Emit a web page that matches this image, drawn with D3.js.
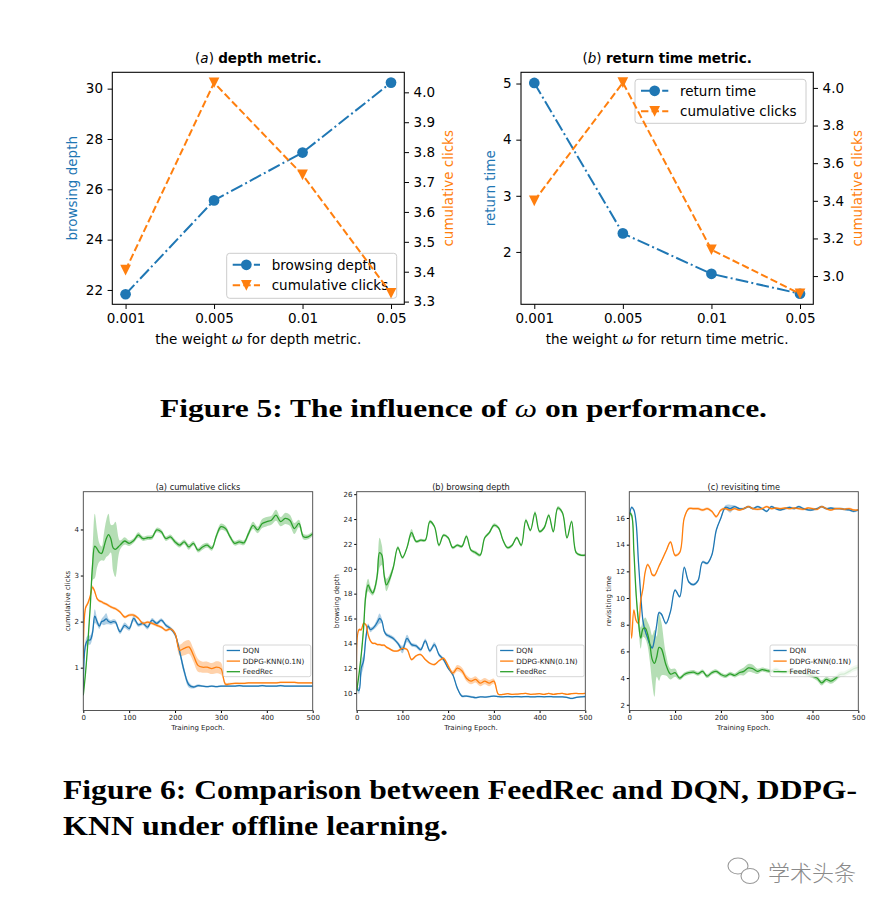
<!DOCTYPE html>
<html><head><meta charset="utf-8">
<script src="https://cdn.jsdelivr.net/npm/d3@7"></script>
<style>body{margin:0;background:#fff}svg{display:block}</style>
</head><body>
<svg id="c" width="884" height="910"></svg>
<script>
// ---------- Figure 5 data ----------
const WEIGHTS = ["0.001", "0.005", "0.01", "0.05"];
const DEPTH_BROWSING = [21.83, 25.56, 27.46, 30.24];
const DEPTH_CLICKS = [3.405, 4.032, 3.724, 3.328];
const RETURN_TIME = [5.01, 2.33, 1.61, 1.255];
const RETURN_CLICKS = [3.40, 4.028, 3.14, 2.906];
const TL_LEFT_TICKS = [22, 24, 26, 28, 30];
const TL_RIGHT_TICKS = [3.3, 3.4, 3.5, 3.6, 3.7, 3.8, 3.9, 4.0];
const TR_LEFT_TICKS = [2, 3, 4, 5];
const TR_RIGHT_TICKS = [3.0, 3.2, 3.4, 3.6, 3.8, 4.0];

// ---------- Figure 6 data ----------
const EPOCHS = [0,5,10,15,20,25,30,35,40,45,50,55,60,65,70,
  80,90,100,110,120,130,140,150,160,170,180,190,200,210,220,230,240,250,260,270,280,290,300,
  310,320,330,340,350,360,370,380,390,400,410,420,430,440,450,460,470,480,490,500];
const EPOCH_TICKS = [0, 100, 200, 300, 400, 500];
const SERIES_NAMES = ["DQN", "DDPG-KNN(0.1N)", "FeedRec"];

const A_DQN = [0.4,1.5,1.6,1.6,1.75,2.12,2.0,1.9,2.0,2.02,2.06,2.0,1.98,2.0,1.99,
  1.78,1.92,1.85,2.07,1.93,1.96,1.88,2.03,1.96,2.03,1.92,1.85,1.72,1.35,0.92,0.63,0.58,0.61,0.6,0.59,0.6,0.59,0.6,
  0.6,0.6,0.6,0.61,0.6,0.6,0.6,0.6,0.61,0.6,0.6,0.6,0.61,0.6,0.6,0.6,0.6,0.6,0.6,0.6];
const A_DQN_SD = [0,0.1,0.1,0.1,0.1,0.15,0.08,0.06,0.06,0.1,0.12,0.06,0.05,0.05,0.05,
  0.05,0.06,0.05,0.06,0.04,0.04,0.05,0.05,0.04,0.04,0.04,0.04,0.05,0.08,0.08,0.06,0.03,0.03,0.02,0.02,0.02,0.02,0.02,
  0.02,0.02,0.02,0.02,0.02,0.02,0.02,0.02,0.02,0.02,0.02,0.02,0.02,0.02,0.02,0.02,0.02,0.02,0.02,0.02];
const A_DDPG = [1.2,2.3,2.4,2.55,2.75,2.65,2.5,2.45,2.43,2.4,2.38,2.35,2.32,2.3,2.28,
  2.21,2.1,2.14,2.14,2.07,1.96,1.99,1.96,1.92,1.88,1.81,1.84,1.74,1.38,1.42,1.45,1.27,1.05,1.01,1.01,0.98,1.01,0.98,
  0.64,0.65,0.66,0.66,0.66,0.67,0.67,0.67,0.67,0.67,0.67,0.67,0.68,0.68,0.68,0.68,0.67,0.67,0.67,0.67];
const A_DDPG_SD = [0,0.04,0.04,0.04,0.04,0.04,0.03,0.03,0.03,0.03,0.03,0.03,0.03,0.03,0.03,
  0.03,0.03,0.03,0.03,0.03,0.03,0.03,0.03,0.03,0.03,0.03,0.03,0.04,0.12,0.15,0.15,0.14,0.14,0.12,0.12,0.12,0.13,0.13,
  0.04,0.02,0.02,0.02,0.02,0.02,0.02,0.02,0.02,0.02,0.02,0.02,0.02,0.02,0.02,0.02,0.02,0.02,0.02,0.02];
const A_FEED = [0.4,0.9,1.55,2.3,3.2,3.64,3.58,3.5,3.48,3.62,3.8,3.89,3.8,3.6,3.57,
  3.66,3.75,3.7,3.76,3.88,3.8,3.82,3.83,3.99,3.95,3.8,3.84,3.73,3.66,3.73,3.62,3.7,3.55,3.62,3.66,3.59,3.86,4.06,
  4.02,3.84,3.7,3.73,3.71,3.91,4.09,3.99,4.13,4.17,4.2,4.31,4.17,4.24,4.2,4.02,4.13,3.84,3.84,3.91];
const A_FEED_SD = [0,0.05,0.05,0.1,0.3,0.7,0.4,0.2,0.15,0.3,0.4,0.45,0.3,0.5,0.6,
  0.1,0.08,0.06,0.05,0.06,0.05,0.05,0.05,0.05,0.05,0.05,0.05,0.05,0.05,0.05,0.06,0.05,0.05,0.06,0.05,0.05,0.06,0.07,
  0.06,0.05,0.05,0.05,0.05,0.06,0.08,0.07,0.1,0.1,0.1,0.12,0.1,0.12,0.12,0.12,0.08,0.06,0.05,0.05];

const B_DQN = [10.4,10.2,12.0,12.6,14.4,15.4,15.1,15.2,15.4,15.7,16.0,15.8,15.0,14.7,14.6,
  14.4,14.0,13.5,14.4,13.9,13.8,13.5,14.2,13.4,13.9,13.1,12.7,12.0,11.5,10.4,9.76,9.76,9.7,9.63,9.7,9.68,9.72,9.76,
  9.72,9.7,9.72,9.7,9.72,9.7,9.72,9.7,9.7,9.72,9.7,9.72,9.7,9.7,9.7,9.65,9.57,9.65,9.7,9.72];
const B_DQN_SD = [0,0.3,0.6,0.5,0.3,0.2,0.2,0.15,0.2,0.3,0.4,0.2,0.15,0.15,0.15,
  0.15,0.15,0.3,0.3,0.15,0.15,0.15,0.2,0.15,0.2,0.15,0.15,0.1,0.1,0.1,0.1,0.08,0.08,0.08,0.06,0.06,0.06,0.06,
  0.06,0.06,0.06,0.06,0.06,0.06,0.06,0.06,0.06,0.06,0.06,0.06,0.06,0.06,0.06,0.06,0.06,0.06,0.06,0.06];
const B_DDPG = [10.4,15.1,15.1,15.6,15.5,14.7,14.2,14.0,14.0,13.9,13.9,13.85,13.85,13.7,13.6,
  13.4,13.4,13.6,13.5,12.7,13.0,13.1,12.7,12.4,12.3,12.6,12.8,12.2,11.6,12.0,11.8,11.2,10.96,11.1,10.8,10.96,10.8,10.96,
  9.9,9.9,9.95,9.9,9.92,9.95,9.98,9.9,9.92,9.95,9.9,9.98,9.9,9.95,9.98,9.9,9.95,9.98,9.95,9.98];
const B_DDPG_SD = [0,0.1,0.1,0.1,0.1,0.08,0.08,0.08,0.08,0.08,0.08,0.08,0.08,0.08,0.08,
  0.08,0.08,0.08,0.1,0.1,0.08,0.08,0.08,0.08,0.08,0.08,0.1,0.15,0.2,0.25,0.25,0.25,0.25,0.25,0.25,0.25,0.25,0.2,
  0.06,0.05,0.05,0.05,0.05,0.05,0.05,0.05,0.05,0.05,0.05,0.05,0.05,0.05,0.05,0.05,0.05,0.05,0.05,0.05];
const B_FEED = [10.16,11.5,13.1,15.2,17.9,18.7,18.3,18.05,18.5,19.5,21.3,21.1,19.5,18.7,19.0,
  20.1,21.7,20.9,21.7,22.9,22.2,22.3,22.3,23.8,23.4,21.9,22.7,22.5,21.7,21.9,21.8,22.6,21.5,21.3,21.1,22.5,22.9,23.5,
  23.3,22.3,21.7,21.9,22.5,21.9,23.9,23.1,24.5,23.0,23.3,24.3,23.0,24.9,24.5,22.5,23.8,21.3,21.1,21.1];
const B_FEED_SD = [0,0.2,0.3,0.4,0.6,0.5,0.3,0.2,0.3,0.5,1.2,0.8,0.4,0.5,0.4,
  0.2,0.15,0.12,0.12,0.3,0.12,0.12,0.12,0.15,0.12,0.12,0.12,0.12,0.12,0.12,0.12,0.15,0.12,0.15,0.12,0.12,0.12,0.15,
  0.12,0.12,0.12,0.12,0.12,0.12,0.15,0.12,0.15,0.12,0.12,0.15,0.12,0.15,0.15,0.12,0.12,0.12,0.1,0.1];

const C_DQN = [16.0,16.8,16.6,15.6,12.7,10.2,8.25,7.5,7.0,6.5,6.26,6.9,8.0,8.9,8.8,
  8.1,9.0,10.6,10.1,12.3,11.2,11.0,11.3,12.7,12.6,13.2,15.1,16.0,16.8,16.7,16.85,16.7,16.7,16.85,16.7,16.85,16.7,16.5,
  16.85,16.7,16.6,16.7,16.8,16.7,16.85,16.7,16.6,16.6,16.7,16.85,16.7,16.75,16.7,16.7,16.65,16.6,16.5,16.6];
const C_DQN_SD = [0,0.1,0.1,0.1,0.1,0.1,0.1,0.1,0.1,0.1,0.1,0.1,0.1,0.1,0.1,
  0.1,0.1,0.1,0.1,0.1,0.1,0.1,0.1,0.1,0.1,0.1,0.1,0.1,0.15,0.3,0.1,0.08,0.08,0.08,0.08,0.08,0.08,0.08,
  0.08,0.08,0.08,0.08,0.08,0.08,0.08,0.08,0.08,0.08,0.08,0.08,0.08,0.08,0.08,0.08,0.08,0.08,0.08,0.08];
const C_DDPG = [16.3,7.0,9.1,8.3,8.1,9.8,10.75,12.0,12.5,12.25,11.75,11.7,12.0,12.4,12.75,
  13.5,14.2,13.2,13.4,16.0,16.7,16.7,16.7,16.6,16.7,16.5,16.1,16.6,16.7,16.6,16.7,16.6,16.7,16.85,16.7,16.65,16.7,16.85,
  16.7,16.75,16.7,16.75,16.7,16.75,16.7,16.65,16.75,16.7,16.65,16.85,16.7,16.6,16.7,16.7,16.65,16.7,16.6,16.6];
const C_DDPG_SD = [0,0.1,0.1,0.1,0.1,0.1,0.1,0.1,0.1,0.1,0.1,0.1,0.1,0.1,0.1,
  0.1,0.1,0.1,0.1,0.1,0.1,0.1,0.1,0.1,0.1,0.1,0.1,0.1,0.1,0.1,0.08,0.08,0.08,0.08,0.08,0.08,0.08,0.08,
  0.08,0.08,0.08,0.08,0.08,0.08,0.08,0.08,0.08,0.08,0.08,0.08,0.08,0.08,0.08,0.08,0.08,0.08,0.08,0.08];
const C_FEED = [16.4,16.2,13.5,10.25,8.25,7.0,7.7,7.75,7.3,6.5,5.4,5.1,5.6,6.3,6.2,
  5.0,4.3,4.4,4.0,4.27,4.4,4.45,4.32,4.5,4.15,4.4,4.5,4.27,4.15,4.32,4.2,4.4,4.5,4.76,4.7,4.5,4.64,4.56,
  4.5,4.64,4.5,4.46,4.5,4.46,4.5,4.4,4.27,4.15,4.0,3.64,3.9,3.77,3.97,4.27,4.32,4.5,4.7,4.81];
const C_FEED_SD = [0,0.2,0.3,0.4,0.5,0.8,0.6,0.8,0.9,1.3,1.8,2.5,1.5,2.5,2.0,
  0.8,0.4,0.3,0.15,0.15,0.15,0.15,0.15,0.15,0.15,0.15,0.15,0.15,0.15,0.15,0.15,0.2,0.3,0.3,0.3,0.2,0.15,0.15,
  0.15,0.15,0.15,0.15,0.15,0.15,0.15,0.15,0.15,0.15,0.2,0.2,0.2,0.2,0.2,0.2,0.2,0.2,0.2,0.2];

// ---------- drawing ----------
const BLUE = "#1f77b4", ORANGE = "#ff7f0e", GREEN = "#2ca02c";
const svg = d3.select("#c");
const SANS = "DejaVu Sans";

function styleAxis(g, size) {
  g.select(".domain").remove();
  g.selectAll("text").attr("font-family", SANS).attr("font-size", size).attr("fill", "#000");
  g.selectAll("line").attr("stroke", "#000");
}

// ----- Figure 5 panels -----
function topPanel(o) {
  const g = svg.append("g");
  const x = d3.scaleLinear().domain([-0.15, 3.15]).range([o.x0, o.x1]);
  const yl = d3.scaleLinear().domain(o.ld).range([304.3, 72.3]);
  const yr = d3.scaleLinear().domain(o.rd).range([304.3, 72.3]);
  const FS = 13.5;
  const ax = g.append("g").attr("transform", "translate(0,304.3)")
    .call(d3.axisBottom(x).tickValues([0,1,2,3]).tickFormat(i => WEIGHTS[i]).tickSize(4.7).tickPadding(4.2));
  styleAxis(ax, FS);
  const al = g.append("g").attr("transform", `translate(${o.x0},0)`)
    .call(d3.axisLeft(yl).tickValues(o.lt).tickFormat(d3.format("d")).tickSize(4.7).tickPadding(4.6));
  styleAxis(al, FS);
  const ar = g.append("g").attr("transform", `translate(${o.x1},0)`)
    .call(d3.axisRight(yr).tickValues(o.rt).tickFormat(d3.format(".1f")).tickSize(4.7).tickPadding(4.6));
  styleAxis(ar, FS);
  const idx = [0,1,2,3];
  const lineL = d3.line().x(i => x(i)).y(i => yl(o.lv[i]));
  const lineR = d3.line().x(i => x(i)).y(i => yr(o.rv[i]));
  const tri = (cx, cy) => `M${cx-5.35},${cy-5.35}L${cx+5.35},${cy-5.35}L${cx},${cy+5.35}Z`;
  // left-axis series
  g.append("path").attr("d", lineL(idx)).attr("fill", "none").attr("stroke", BLUE)
    .attr("stroke-width", 2).attr("stroke-dasharray", "12.8,3.2,2,3.2");
  g.selectAll(".pc").data(idx).join("circle").attr("cx", i => x(i)).attr("cy", i => yl(o.lv[i]))
    .attr("r", 5.35).attr("fill", BLUE);
  // legend (belongs to the left axes, so the twin axis draws over it)
  const L = o.leg;
  const lg = g.append("g");
  lg.append("rect").attr("x", L.x).attr("y", L.y).attr("width", L.w).attr("height", L.h).attr("rx", 3)
    .attr("fill", "#fff").attr("fill-opacity", 0.8).attr("stroke", "#cccccc").attr("stroke-width", 1);
  const hx0 = L.x + 6, hx1 = L.x + 33.3, hm = (hx0 + hx1) / 2;
  const e1 = L.y + 11.5, e2 = L.y + 32;
  lg.append("line").attr("x1", hx0).attr("x2", hx1).attr("y1", e1).attr("y2", e1).attr("stroke", BLUE)
    .attr("stroke-width", 2).attr("stroke-dasharray", "12.8,3.2,2,3.2");
  lg.append("circle").attr("cx", hm).attr("cy", e1).attr("r", 5.35).attr("fill", BLUE);
  lg.append("line").attr("x1", hx0).attr("x2", hx1).attr("y1", e2).attr("y2", e2).attr("stroke", ORANGE)
    .attr("stroke-width", 2).attr("stroke-dasharray", "7.4,3.2");
  lg.append("path").attr("d", tri(hm, e2)).attr("fill", ORANGE);
  lg.append("text").attr("x", L.x + 45).attr("y", e1).attr("dominant-baseline", "central")
    .attr("font-family", SANS).attr("font-size", FS).text(o.ylabel);
  lg.append("text").attr("x", L.x + 45).attr("y", e2).attr("dominant-baseline", "central")
    .attr("font-family", SANS).attr("font-size", FS).text("cumulative clicks");
  // right-axis series (twin axes, drawn on top)
  g.append("path").attr("d", lineR(idx)).attr("fill", "none").attr("stroke", ORANGE)
    .attr("stroke-width", 2).attr("stroke-dasharray", "7.4,3.2");
  g.selectAll(".pt").data(idx).join("path").attr("d", i => tri(x(i), yr(o.rv[i]))).attr("fill", ORANGE);
  // frame
  g.append("rect").attr("x", o.x0).attr("y", 72.3).attr("width", o.x1 - o.x0).attr("height", 232)
    .attr("fill", "none").attr("stroke", "#000").attr("stroke-width", 1.07);
  // labels
  const cx = (o.x0 + o.x1) / 2;
  const t = g.append("text").attr("x", cx).attr("y", 63).attr("text-anchor", "middle")
    .attr("font-family", SANS).attr("font-size", FS);
  t.append("tspan").text("(");
  t.append("tspan").attr("font-style", "italic").text(o.letter);
  t.append("tspan").text(") ");
  t.append("tspan").attr("font-weight", "bold").text(o.title);
  const xl = g.append("text").attr("x", cx).attr("y", 344).attr("text-anchor", "middle")
    .attr("font-family", SANS).attr("font-size", FS);
  xl.append("tspan").text("the weight ");
  xl.append("tspan").attr("font-style", "italic").text("ω");
  xl.append("tspan").text(" for " + o.xlabel);
  g.append("text").attr("transform", `translate(${o.ylx},188.3) rotate(-90)`).attr("text-anchor", "middle")
    .attr("dominant-baseline", "central").attr("font-family", SANS).attr("font-size", FS)
    .attr("fill", BLUE).text(o.ylabel);
  g.append("text").attr("transform", `translate(${o.yrx},188.3) rotate(-90)`).attr("text-anchor", "middle")
    .attr("dominant-baseline", "central").attr("font-family", SANS).attr("font-size", FS)
    .attr("fill", ORANGE).text("cumulative clicks");
}

topPanel({x0: 112.3, x1: 404.3, ld: [21.43, 30.65], rd: [3.291, 4.067],
  lt: TL_LEFT_TICKS, rt: TL_RIGHT_TICKS, lv: DEPTH_BROWSING, rv: DEPTH_CLICKS,
  letter: "a", title: "depth metric.", xlabel: "depth metric.", ylabel: "browsing depth",
  ylx: 71.7, yrx: 448.3, leg: {x: 226.7, y: 253.3, w: 170, h: 45}});
topPanel({x0: 521, x1: 813.3, ld: [1.067, 5.2], rd: [2.85, 4.083],
  lt: TR_LEFT_TICKS, rt: TR_RIGHT_TICKS, lv: RETURN_TIME, rv: RETURN_CLICKS,
  letter: "b", title: "return time metric.", xlabel: "return time metric.", ylabel: "return time",
  ylx: 490, yrx: 856.7, leg: {x: 635, y: 79.3, w: 171, h: 44}});

// ----- Figure 5 caption -----
const SERIF = "Liberation Serif";
const c5 = svg.append("text").attr("x", 160).attr("y", 417).attr("font-family", SERIF)
  .attr("font-weight", "bold").attr("font-size", 26).attr("textLength", 607).attr("lengthAdjust", "spacingAndGlyphs");
c5.append("tspan").text("Figure 5: The influence of ");
c5.append("tspan").attr("font-style", "italic").attr("font-weight", "normal").text("ω");
c5.append("tspan").text(" on performance.");

// ----- Figure 6 panels -----
function bottomPanel(o) {
  const g = svg.append("g");
  const T = 491.7, B = 710.5;
  const x = d3.scaleLinear().domain([0, 500]).range([o.x0, o.x1]);
  const y = d3.scaleLinear().domain(o.yd).range([B, T]);
  const FS = 7;
  const id = "clip" + o.key;
  svg.append("clipPath").attr("id", id).append("rect").attr("x", o.x0).attr("y", T)
    .attr("width", o.x1 - o.x0).attr("height", B - T);
  const plot = g.append("g").attr("clip-path", `url(#${id})`);
  const curve = d3.curveCatmullRom.alpha(0.5);
  const idx = EPOCHS.map((_, i) => i);
  o.series.forEach(s => {
    const area = d3.area().curve(curve).x(i => x(EPOCHS[i]))
      .y0(i => y(s.v[i] - s.sd[i])).y1(i => y(s.v[i] + s.sd[i]));
    plot.append("path").attr("d", area(idx)).attr("fill", s.c).attr("fill-opacity", 0.35);
  });
  o.series.forEach(s => {
    const line = d3.line().curve(curve).x(i => x(EPOCHS[i])).y(i => y(s.v[i]));
    plot.append("path").attr("d", line(idx)).attr("fill", "none").attr("stroke", s.c).attr("stroke-width", 1.3);
  });
  const ax = g.append("g").attr("transform", `translate(0,${B})`)
    .call(d3.axisBottom(x).tickValues(EPOCH_TICKS).tickFormat(d3.format("d")).tickSize(2.5).tickPadding(1.8));
  styleAxis(ax, FS);
  const ay = g.append("g").attr("transform", `translate(${o.x0},0)`)
    .call(d3.axisLeft(y).tickValues(o.yt).tickFormat(d3.format("d")).tickSize(2.5).tickPadding(1.8));
  styleAxis(ay, FS);
  g.selectAll("text").attr("fill", "#222");
  g.append("rect").attr("x", o.x0).attr("y", T).attr("width", o.x1 - o.x0).attr("height", B - T)
    .attr("fill", "none").attr("stroke", "#444").attr("stroke-width", 0.9);
  const cx = (o.x0 + o.x1) / 2;
  g.append("text").attr("x", cx).attr("y", 489.5).attr("text-anchor", "middle")
    .attr("font-family", SANS).attr("font-size", 8.2).attr("fill", "#222").text(o.title);
  g.append("text").attr("x", cx).attr("y", 730).attr("text-anchor", "middle")
    .attr("font-family", SANS).attr("font-size", FS).attr("fill", "#222").text("Training Epoch.");
  g.append("text").attr("transform", `translate(${o.ylx},${(T + B) / 2}) rotate(-90)`).attr("text-anchor", "middle")
    .attr("dominant-baseline", "central").attr("font-family", SANS).attr("font-size", FS)
    .attr("fill", "#222").text(o.ylabel);
  const lx = o.lx, ly = 645;
  g.append("rect").attr("x", lx).attr("y", ly).attr("width", 87.5).attr("height", 31.7).attr("rx", 2)
    .attr("fill", "#fff").attr("fill-opacity", 0.8).attr("stroke", "#cccccc").attr("stroke-width", 0.8);
  o.series.forEach((s, k) => {
    const yy = ly + 5.5 + k * 10.6;
    g.append("line").attr("x1", lx + 3.4).attr("x2", lx + 16.7).attr("y1", yy).attr("y2", yy)
      .attr("stroke", s.c).attr("stroke-width", 1.3);
    g.append("text").attr("x", lx + 19.5).attr("y", yy).attr("dominant-baseline", "central")
      .attr("font-family", SANS).attr("font-size", 7.2).attr("fill", "#222").text(s.name);
  });
}

bottomPanel({key: "a", x0: 83.3, x1: 312.7, yd: [0.07, 4.82], yt: [1, 2, 3, 4],
  title: "(a) cumulative clicks", ylabel: "cumulative clicks", ylx: 67.7, lx: 223.3,
  series: [{name: SERIES_NAMES[0], c: BLUE, v: A_DQN, sd: A_DQN_SD},
           {name: SERIES_NAMES[1], c: ORANGE, v: A_DDPG, sd: A_DDPG_SD},
           {name: SERIES_NAMES[2], c: GREEN, v: A_FEED, sd: A_FEED_SD}]});
bottomPanel({key: "b", x0: 356.7, x1: 585.3, yd: [8.6, 26.2], yt: [10, 12, 14, 16, 18, 20, 22, 24, 26],
  title: "(b) browsing depth", ylabel: "browsing depth", ylx: 336.7, lx: 496.7,
  series: [{name: SERIES_NAMES[0], c: BLUE, v: B_DQN, sd: B_DQN_SD},
           {name: SERIES_NAMES[1], c: ORANGE, v: B_DDPG, sd: B_DDPG_SD},
           {name: SERIES_NAMES[2], c: GREEN, v: B_FEED, sd: B_FEED_SD}]});
bottomPanel({key: "c", x0: 629.3, x1: 858.3, yd: [1.57, 17.97], yt: [2, 4, 6, 8, 10, 12, 14, 16],
  title: "(c) revisiting time", ylabel: "revisiting time", ylx: 609, lx: 770,
  series: [{name: SERIES_NAMES[0], c: BLUE, v: C_DQN, sd: C_DQN_SD},
           {name: SERIES_NAMES[1], c: ORANGE, v: C_DDPG, sd: C_DDPG_SD},
           {name: SERIES_NAMES[2], c: GREEN, v: C_FEED, sd: C_FEED_SD}]});

// ----- Figure 6 caption -----
svg.append("text").attr("x", 63).attr("y", 799).attr("font-family", SERIF).attr("font-weight", "bold")
  .attr("font-size", 27).attr("textLength", 794).attr("lengthAdjust", "spacingAndGlyphs")
  .text("Figure 6: Comparison between FeedRec and DQN, DDPG-");
svg.append("text").attr("x", 63).attr("y", 835).attr("font-family", SERIF).attr("font-weight", "bold")
  .attr("font-size", 27).attr("textLength", 385).attr("lengthAdjust", "spacingAndGlyphs")
  .text("KNN under offline learning.");

// ----- watermark -----
const wm = svg.append("g").attr("fill", "none").attr("stroke", "#9a9a9a").attr("stroke-width", 1.1);
wm.append("ellipse").attr("cx", 738).attr("cy", 866).attr("rx", 10).attr("ry", 8);
wm.append("ellipse").attr("cx", 750).attr("cy", 876).attr("rx", 9).attr("ry", 7.5).attr("fill", "#fff");
svg.append("text").attr("x", 768).attr("y", 881).attr("font-family", "Noto Sans CJK SC").attr("font-weight", 300)
  .attr("font-size", 22).attr("fill", "#8a8a8a").text("学术头条");
</script>
</body></html>
